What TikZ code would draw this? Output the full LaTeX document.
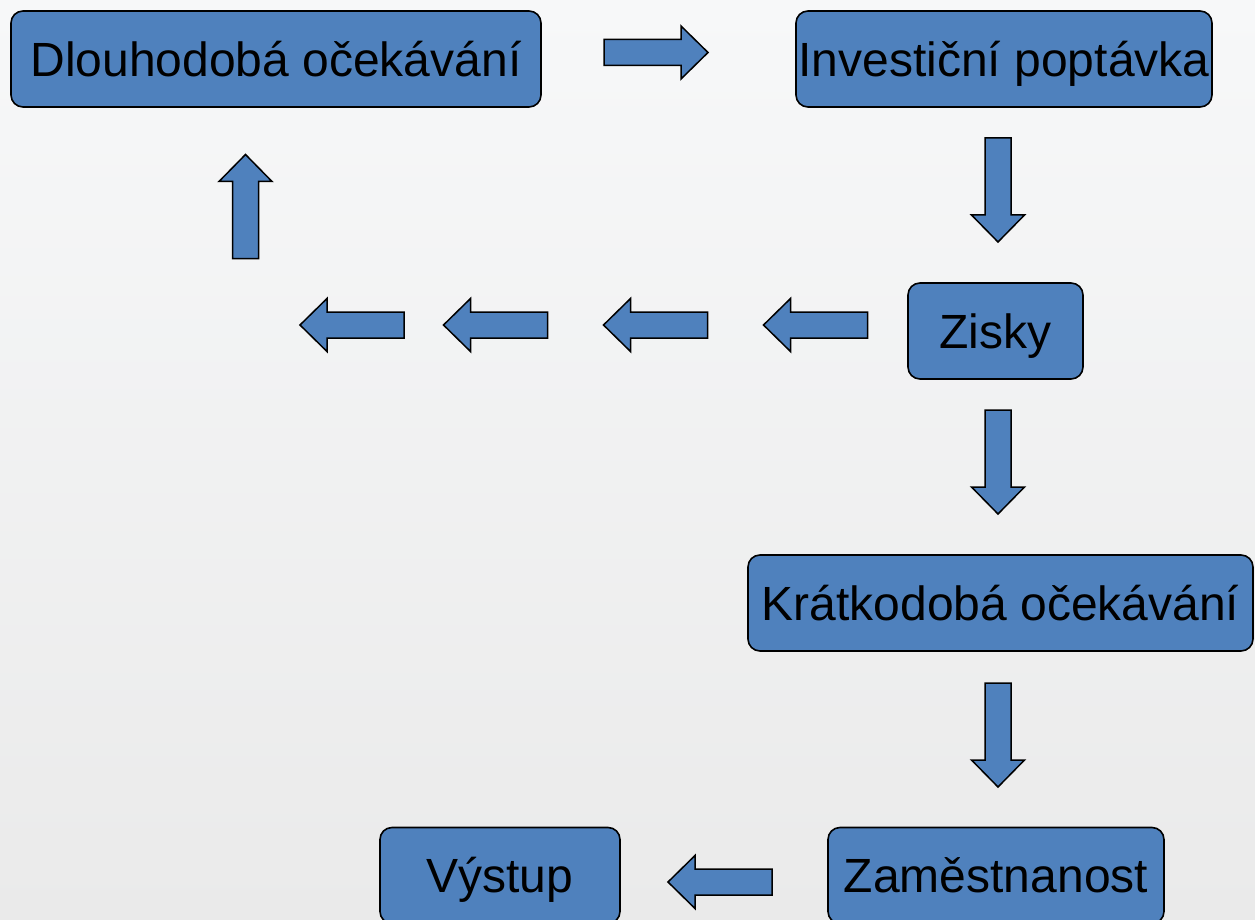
\documentclass[tikz,border=0pt]{standalone}
\usepackage{fontspec}
\setmainfont{Liberation Sans}
\definecolor{boxblue}{HTML}{4F81BD}
\definecolor{bgtop}{HTML}{F7F8F9}
\definecolor{bgbot}{HTML}{EAEAEA}
\tikzset{
  flowbox/.style={draw=black, line width=1.6pt, fill=boxblue, rounded corners=12pt,
    minimum height=96pt, inner sep=0pt, text height=34.4pt, text depth=0pt,
    font=\fontsize{48}{56}\selectfont, text=black},
  barrow/.pic={
    \draw[line width=1.5pt, fill=boxblue, line join=miter]
      (-52,-13) -- (25,-13) -- (25,-26.5) -- (52,0) -- (25,26.5) -- (25,13) -- (-52,13) -- cycle;
  }
}
\begin{document}
\begin{tikzpicture}[x=1pt,y=-1pt]
\useasboundingbox (0,0) rectangle (1255,920);
\clip (0,0) rectangle (1255,920);
\shade[top color=bgtop, bottom color=bgbot] (0,0) rectangle (1255,920);

\node[flowbox, minimum width=530pt] (dlouho) at (276,59) {Dlouhodobá očekávání};
\node[flowbox, minimum width=416pt] (invest) at (1004,59) {Investiční poptávka};
\node[flowbox, minimum width=175pt] (zisky) at (995.5,331) {Zisky};
\node[flowbox, minimum width=505pt] (kratko) at (1000.5,603) {Krátkodobá očekávání};
\node[flowbox, minimum width=336pt] (zames) at (996,875.5) {Zaměstnanost};
\node[flowbox, minimum width=240pt] (vystup) at (500,875.5) {Výstup};

% right arrow
\pic at (656,52.5) {barrow};
% down arrows
\pic[rotate=-90] at (998,190) {barrow};
\pic[rotate=-90] at (998,462) {barrow};
\pic[rotate=-90] at (998,735) {barrow};
% left arrows row
\pic[xscale=-1] at (815.5,325) {barrow};
\pic[xscale=-1] at (655.5,325) {barrow};
\pic[xscale=-1] at (495.5,325) {barrow};
\pic[xscale=-1] at (352,325) {barrow};
% up arrow
\pic[rotate=90] at (245.5,206.5) {barrow};
% bottom left arrow
\pic[xscale=-1] at (720,882) {barrow};
\end{tikzpicture}
\end{document}
